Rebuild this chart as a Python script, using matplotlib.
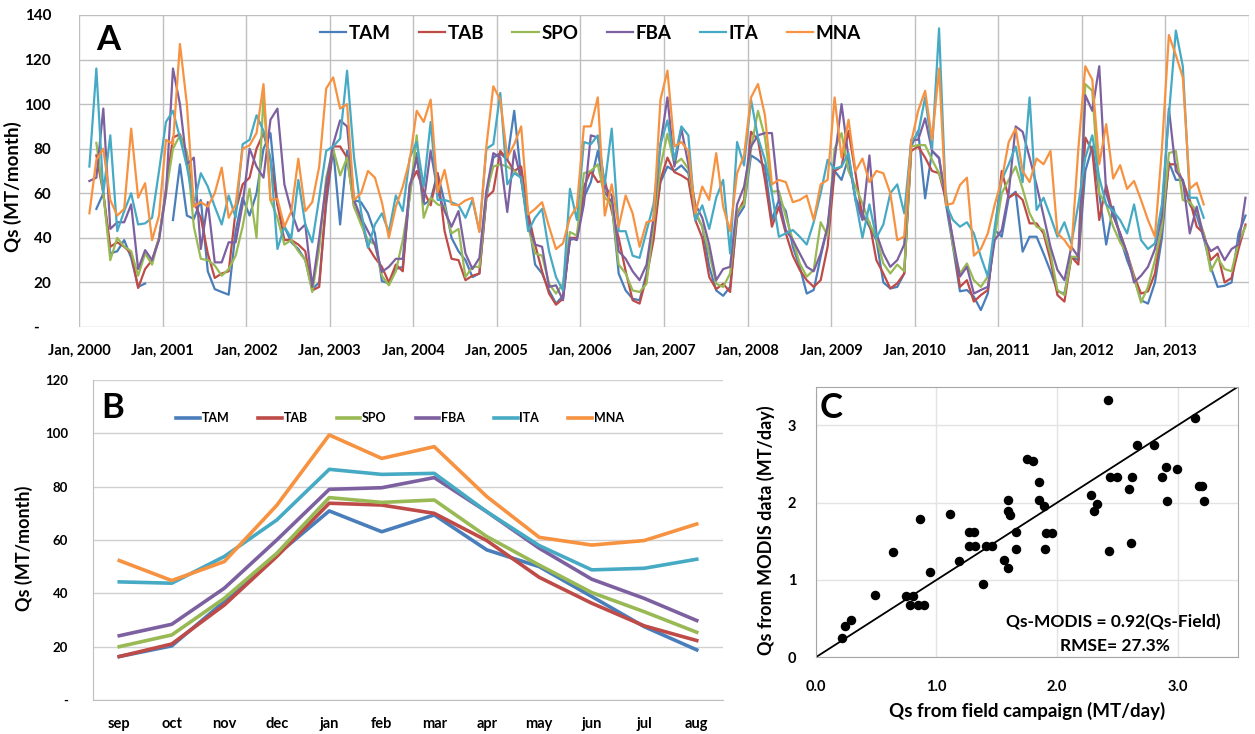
import numpy as np
import matplotlib.pyplot as plt

plt.rcParams['font.family'] = ['Lato', 'DejaVu Sans']
plt.rcParams['font.weight'] = 'bold'
plt.rcParams['axes.labelweight'] = 'bold'

nan = np.nan
stations = ['TAM', 'TAB', 'SPO', 'FBA', 'ITA', 'MNA']
colors = ['#4A7EBB', '#BE4B48', '#98B954', '#7D60A0', '#46AAC5', '#F69240']

# ---- panel A: monthly Qs (MT/month), Feb 2000 .. Dec 2013 ----
tam = [nan, 53, 60, 33, 34, 39, 31, 18, 19.5, nan, nan,
       nan, 48, 73, 50, 48.5, 57, 25, 17, 15.7, 14.5, 43, 58,
       50, 60, 80, 87, 55, 45, 38, 35, 30, 17, 20, 55,
       80, 46, 79, 57, 56, 51, 42, 20.6, 19.6, 26, 27, 60,
       78, 55, 57, 69, 56, 40, 34, 30, 22.4, 24, 58, 76,
       78, 75, 97, 67, 49, 28, 24, 16.4, 10.5, 14, 39, 40,
       58, 65, 79, 60.5, 56, 24, 16.4, 12.7, 12, 24, 45, 65,
       72, 70, 72.5, 69, 51, 45, 27, 16.4, 14, 18, 49, 54,
       77, 75, 72, 48, 57, 52, 36, 27, 15, 16.6, 31.5, 45,
       70, 66, 76, 58, 51, 45, 39, 20, 17.3, 18, 24, 81,
       88, 57.7, 79, 75.6, 55, 36, 16, 16.6, 13.6, 7.6, 15, 43.5,
       40.5, 58, 60.7, 33.8, 40.5, 40.5, 33, 25, 16, 15, 31.5, 30,
       70, 81, 60, 37, 54, 40, 30, 22, 12, 10.5, 20, 40,
       74, 66, 66, 55, 50, 40, 27, 18, 18.5, 20, 42, 50]
tab = [nan, 77, 60, 36, 38, 36, 33, 17.5, 26, 30, 40,
       62, 85, 86.5, 78, 56, 49, 33, 22, 24, 25, 52, 64,
       67, 80, 87, 75, 55, 39, 39, 37, 34, 16.4, 18, 58,
       81, 81, 76, 54, 48, 36, 31, 27, 20, 28, 25, 64,
       70, 61, 54.6, 69, 43, 30.6, 30, 21, 23, 24, 58, 61,
       79, 75, 70, 72, 51, 37, 25, 15, 10, 12.7, 40, 40,
       63, 70, 65, 66, 52, 40, 25, 12, 10.5, 22.4, 39, 66,
       76, 69.5, 68, 66, 48, 40, 22.4, 17, 19.4, 15.7, 51, 57,
       87.6, 84, 66, 45, 54, 42, 32, 25.6, 21, 18, 21, 36,
       70, 72, 88, 69, 49, 47, 30, 24, 17.3, 19.6, 24, 79,
       81, 76, 70, 69, 57, 39, 18, 21, 11.4, 14.3, 16.6, 42,
       70, 58, 60, 57, 46.5, 46.5, 42, 30, 14.3, 11.4, 31.5, 28,
       85, 79, 48, 63.7, 50, 42, 33, 23, 15, 16, 24, 45,
       73, 73, 65, 57, 45, 42, 30, 33, 20, 22, 35, 46]
spo = [nan, 82.6, 60, 30, 40, 36, 34, 23, 33, 28, 40,
       60, 80, 86, 78, 45, 30.6, 30, 27.6, 23, 26, 32, 45,
       62, 40, 104, 57, 49, 37, 39, 34, 30, 15.7, 35, 67,
       80, 68, 76, 54, 46, 39, 37, 23, 18.7, 25, 39, 58,
       86, 49, 58, 55, 54, 42, 44, 22.4, 27, 27, 60, 72,
       73, 72, 70, 67, 45, 33, 32, 19.4, 15, 19.4, 42.6, 41,
       69, 70, 73, 58, 55, 28, 24, 16.4, 15.7, 19.4, 46, 72,
       86.7, 73, 75.5, 71, 52, 45, 33, 19.4, 18, 24, 52, 55,
       80, 97, 85, 60.7, 61, 49.5, 39, 28.5, 22.6, 25.6, 47, 41,
       80, 87, 70, 63, 55.5, 46.5, 40, 28.5, 24, 28, 25, 81,
       81.6, 81.6, 75, 69, 60, 36, 24, 28.5, 21, 18, 22.6, 40.5,
       60, 66, 72, 62, 51, 45, 43.5, 33, 16.6, 14.3, 31.5, 31.5,
       109, 106, 60, 55, 45, 38, 33, 22, 11, 18, 30, 45,
       78, 79, 57, 56, 52, 42, 25, 31, 26, 25, 38, 45]
fba = [65.5, 67, 98, 44, 47, 47, 55, 26, 34.5, 30, 39,
       60, 116, 100, 73, 76, 35, 56, 29, 29, 38, 38, 55,
       80, 72, 67, 93, 98, 64, 52, 43, 46, 18, 40, 64,
       82, 92.7, 90, 57, 49, 43, 37, 24.7, 27, 30.6, 30.6, 63,
       76, 56, 79, 61, 52, 45, 52, 33, 26, 31, 61, 78,
       76, 51.6, 79, 66, 46, 37, 36, 18, 18.7, 12, 40, 39,
       55, 86, 85, 63, 59, 34, 30.6, 25, 21, 28, 49, 82,
       103, 72, 89, 73, 55, 49, 37, 21, 26, 27, 55, 63,
       81, 86, 87, 87, 57, 43.5, 39, 33, 27, 25, 33, 45,
       75, 100, 76, 57, 48, 77, 42, 33, 27, 30, 37, 84,
       84, 93.6, 79, 76, 57, 39, 22.6, 27, 15, 16.6, 18, 39,
       43.5, 60, 90, 87.6, 76, 63.7, 50, 36, 25.6, 21, 36, 31.5,
       104, 97, 117, 60, 50, 42, 33, 20, 23, 27, 35, 50,
       98, 70, 66, 42, 54, 40, 34, 36, 30, 35, 37, 58]
ita = [72, 116, 60, 86, 43, 52, 60, 46, 46.5, 49, 70,
       92, 97, 85, 72, 55, 69, 63, 54, 46, 59, 49, 82,
       84, 95, 88, 76, 35, 45, 40, 66, 46, 38, 58, 79,
       81, 84.5, 115, 76, 52, 35.6, 46, 51, 42.6, 59, 52, 76,
       83, 63, 92, 57, 57, 56, 54.6, 49, 57, 43, 80, 82,
       105, 64, 69, 67, 43, 49, 53, 34, 22.4, 16.4, 62, 48,
       83, 82, 86, 64, 89, 43, 43, 32, 31, 43, 55, 82,
       92.7, 75, 90, 86, 48, 54.6, 44, 58, 66, 33, 83, 72.5,
       102, 85, 75, 60, 40.5, 42, 43.5, 40.5, 37, 47, 60, 75,
       71, 72, 78, 57, 40, 55, 40, 46, 60, 64, 51, 83,
       87, 103, 80, 134, 55, 48, 45, 47, 42, 31.5, 22.6, 45,
       66, 73, 81, 65, 103, 52.5, 58, 49.5, 40.5, 47, 37.5, 55,
       76, 86, 67, 55, 52, 48, 42, 55, 39, 35, 37.5, 55,
       95, 133, 117, 58, 58, 49, nan, nan, nan, nan, nan, nan]
mna = [51, 75, 80, 57, 50, 53, 89, 58, 64.5, 39, 50,
       84, 82, 127, 100, 54, 56, 54, 60, 71.5, 49, 55, 80,
       81.5, 87, 109, 57, 57.5, 45, 52, 75.5, 52, 56, 72, 107,
       112, 98, 100, 57, 60, 70, 67, 56, 40, 54, 63, 75,
       97, 92, 102, 60.5, 70.5, 55, 54.6, 56.8, 58, 42.6, 81, 108,
       102, 76, 82, 90, 50.5, 53, 56, 45, 35, 37.5, 49, 54,
       90, 90, 103, 50, 64, 45, 59, 51, 36, 47, 48, 102,
       115, 81, 83, 79, 51, 63, 57, 78, 54, 43, 69, 77,
       103, 109, 95, 64, 66, 65, 56, 57, 59, 48, 64, 66,
       103, 76, 93, 70, 75.6, 65, 70, 69, 60, 39, 40.5, 83,
       97, 106, 84, 116, 54.7, 55.5, 63.7, 67, 32, 35, 42, 55,
       66, 83, 89, 70, 65, 75.6, 73, 79, 42, 39, 34.5, 80,
       117, 111, 73, 91, 66.6, 72.6, 62, 65.5, 57, 48, 40.5, 80,
       131, 122, 112, 62, 64.7, 55, nan, nan, nan, nan, nan, nan]
years = list(range(2000, 2014))

# ---- panel B: mean seasonal cycle (MT/month) ----
season = ['sep', 'oct', 'nov', 'dec', 'jan', 'feb', 'mar', 'apr', 'may', 'jun', 'jul', 'aug']
tam_m = [16.3, 20.3, 36.9, 54.4, 70.9, 63.1, 69.4, 56.3, 50.0, 38.8, 27.5, 18.8]
tab_m = [16.3, 21.0, 35.6, 53.8, 73.8, 73.1, 70.0, 59.8, 46.0, 36.3, 27.8, 22.3]
spo_m = [20.0, 24.4, 38.1, 55.0, 75.9, 74.1, 75.0, 61.3, 50.6, 40.3, 33.1, 25.4]
fba_m = [24.1, 28.4, 41.9, 60.0, 79.0, 79.6, 83.4, 70.6, 56.9, 45.3, 38.1, 29.8]
ita_m = [44.3, 43.8, 53.8, 67.5, 86.5, 84.6, 85.0, 70.6, 57.9, 48.8, 49.4, 52.8]
mna_m = [52.3, 44.8, 51.9, 73.0, 99.4, 90.6, 95.0, 76.3, 61.0, 58.1, 59.8, 66.0]

# ---- panel C: field vs MODIS (MT/day) ----
qs_field = [2.42, 3.14, 2.66, 2.80, 1.75, 1.80, 2.90, 2.99, 2.87, 2.62, 2.44, 2.50,
            1.85, 2.60, 3.18, 3.20, 2.28, 2.33, 2.31, 1.85, 1.89, 1.59, 2.91, 3.22,
            1.59, 1.61, 1.11, 0.86, 1.66, 1.91, 1.96, 1.27, 1.31, 1.27, 1.32, 1.41,
            1.46, 1.66, 1.90, 2.43, 2.61, 0.64, 1.19, 1.56, 1.59, 0.95, 1.39, 0.49,
            0.75, 0.81, 0.78, 0.85, 0.90, 0.29, 0.24, 0.22]
qs_modis = [3.33, 3.09, 2.75, 2.75, 2.56, 2.54, 2.46, 2.43, 2.33, 2.33, 2.33, 2.33,
            2.27, 2.18, 2.22, 2.22, 2.10, 1.98, 1.89, 2.03, 1.96, 2.03, 2.02, 2.02,
            1.89, 1.84, 1.85, 1.79, 1.62, 1.61, 1.61, 1.62, 1.62, 1.44, 1.44, 1.44,
            1.44, 1.40, 1.40, 1.38, 1.48, 1.36, 1.25, 1.26, 1.15, 1.10, 0.95, 0.80,
            0.79, 0.79, 0.67, 0.67, 0.67, 0.48, 0.41, 0.25]

series_a = [tam, tab, spo, fba, ita, mna]
series_b = [tam_m, tab_m, spo_m, fba_m, ita_m, mna_m]

fig = plt.figure(figsize=(12.55, 7.34), dpi=100)
grid_c = '#BFBFBF'

# ===== A =====
axA = fig.add_axes([0.0629, 0.5545, 0.9323, 0.4251])
x = np.arange(1, 168) + 0.5
for vals, name, c in zip(series_a, stations, colors):
    axA.plot(x, vals, color=c, lw=1.6, label=name)
axA.set_xlim(0, 168)
axA.set_ylim(0, 140)
axA.set_xticks(np.arange(0, 169, 12))
axA.set_xticklabels(['Jan, %d' % y for y in years] + [''], fontsize=10.5)
axA.set_yticks(np.arange(0, 141, 20))
axA.set_yticklabels(['-   '] + [str(v) for v in range(20, 141, 20)], fontsize=11)
axA.tick_params(length=0, pad=12)
axA.tick_params(axis='y', pad=20)
axA.grid(True, color=grid_c, lw=1)
axA.set_axisbelow(True)
for s in axA.spines.values():
    s.set_visible(False)
axA.set_ylabel('Qs (MT/month)', fontsize=13.5)
axA.yaxis.set_label_coords(-0.0487, 0.45)
axA.legend(loc='center', bbox_to_anchor=(0.437, 0.942), ncol=6, frameon=False,
           fontsize=13.5, handlelength=1.4, handletextpad=0.15, columnspacing=1.5)
fig.text(108 / 1255, 1 - 40 / 734, 'A', fontsize=25, ha='center', va='center')

# ===== B =====
axB = fig.add_axes([0.0741, 0.0463, 0.502, 0.436])
xb = np.arange(len(season))
for vals, name, c in zip(series_b, stations, colors):
    axB.plot(xb, vals, color=c, lw=2.6, label=name)
axB.set_xlim(-0.5, 11.5)
axB.set_ylim(0, 120)
axB.set_xticks(xb)
axB.set_xticklabels(season, fontsize=10.5)
axB.set_yticks(np.arange(0, 121, 20))
axB.set_yticklabels(['-'] + [str(v) for v in range(20, 121, 20)], fontsize=9.5)
axB.tick_params(length=0)
axB.tick_params(axis='x', pad=12)
axB.tick_params(axis='y', pad=18)
axB.grid(True, axis='y', color='#D0D0D0', lw=1)
axB.set_axisbelow(True)
for k in ['top', 'right']:
    axB.spines[k].set_visible(False)
for k in ['left', 'bottom']:
    axB.spines[k].set_color('#BFBFBF')
axB.set_ylabel('Qs (MT/month)', fontsize=13)
axB.yaxis.set_label_coords(-0.095, 0.475)
axB.legend(loc='center', bbox_to_anchor=(0.487, 0.88), ncol=6, frameon=False,
           fontsize=9, handlelength=1.9, handletextpad=0.15, columnspacing=2.3)
fig.text(113 / 1255, 1 - 408 / 734, 'B', fontsize=25, ha='center', va='center')

# ===== C =====
axC = fig.add_axes([0.650, 0.1045, 0.3365, 0.3687])
axC.plot([0, 3.5], [0, 3.5], color='black', lw=1.3, zorder=2)
axC.scatter(qs_field, qs_modis, s=34, color='black', zorder=3)
axC.set_xlim(0, 3.5)
axC.set_ylim(0, 3.5)
axC.set_xticks([0, 1, 2, 3])
axC.set_xticklabels(['0.0', '1.0', '2.0', '3.0'], fontsize=10.5)
axC.set_yticks([0, 1, 2, 3])
axC.set_yticklabels(['0', '1', '2', '3'], fontsize=10.5)
axC.tick_params(length=0)
axC.tick_params(axis='x', pad=16)
axC.tick_params(axis='y', pad=14)
axC.grid(True, color='#E3E3E3', lw=1)
axC.set_axisbelow(True)
for s in axC.spines.values():
    s.set_color('#A6A6A6')
axC.set_xlabel('Qs from field campaign (MT/day)', fontsize=13.5)
axC.xaxis.set_label_coords(0.5, -0.165)
axC.set_ylabel('Qs from MODIS data (MT/day)', fontsize=13)
axC.yaxis.set_label_coords(-0.096, 0.47)
axC.text(0.704, 0.13, 'Qs-MODIS = 0.92(Qs-Field)', transform=axC.transAxes,
         fontsize=12.5, ha='center', va='center')
axC.text(0.708, 0.042, 'RMSE= 27.3%', transform=axC.transAxes,
         fontsize=12.5, ha='center', va='center')
fig.text(831 / 1255, 1 - 408 / 734, 'C', fontsize=25, ha='center', va='center')

fig.savefig('out.png', dpi=100)
